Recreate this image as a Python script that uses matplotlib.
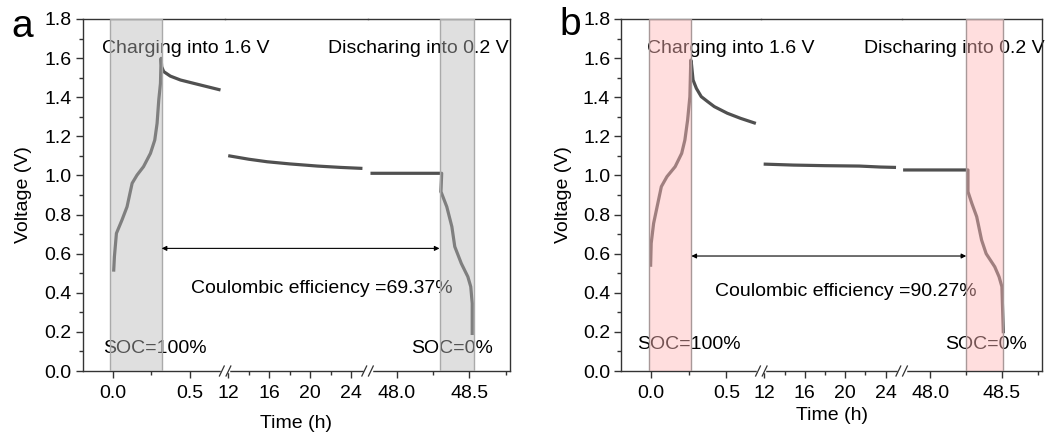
import matplotlib.pyplot as plt
from matplotlib.lines import Line2D

plt.rcParams['font.family'] = ['Liberation Sans', 'DejaVu Sans']
plt.rcParams['font.size'] = 14

# ---- data (time in h, voltage in V) ----
# panel a
a_t1 = [0.006, 0.011, 0.024, 0.06, 0.093, 0.126, 0.158, 0.2, 0.245, 0.273, 0.288, 0.299, 0.31, 0.314,
        0.318, 0.331, 0.374, 0.44, 0.526, 0.613, 0.70]
a_v1 = [0.508, 0.585, 0.704, 0.772, 0.84, 0.96, 1.002, 1.045, 1.113, 1.181, 1.266, 1.386, 1.471, 1.599,
        1.556, 1.531, 1.508, 1.488, 1.471, 1.454, 1.437]
a_t2 = [12.0, 14.0, 15.8, 18.0, 20.7, 23.0, 25.1]
a_v2 = [1.101, 1.083, 1.07, 1.059, 1.048, 1.041, 1.036]
a_t3 = [47.82, 48.1, 48.31, 48.305, 48.345, 48.38, 48.40, 48.445, 48.49, 48.51, 48.52, 48.52]
a_v3 = [1.011, 1.011, 1.011, 0.917, 0.84, 0.738, 0.636, 0.55, 0.482, 0.431, 0.346, 0.184]

# panel b
b_t1 = [0.0, 0.004, 0.02, 0.043, 0.071, 0.108, 0.162, 0.205, 0.226, 0.244, 0.259, 0.265,
        0.269, 0.28, 0.302, 0.334, 0.377, 0.42, 0.506, 0.593, 0.694]
b_v1 = [0.533, 0.653, 0.755, 0.84, 0.943, 0.994, 1.045, 1.113, 1.181, 1.283, 1.403, 1.59,
        1.573, 1.488, 1.445, 1.403, 1.377, 1.352, 1.318, 1.292, 1.266]
b_t2 = [11.93, 14.87, 18.0, 21.4, 23.5, 25.04]
b_v2 = [1.058, 1.053, 1.050, 1.048, 1.043, 1.041]
b_t3 = [47.81, 48.05, 48.263, 48.263, 48.29, 48.324, 48.358, 48.39, 48.45, 48.48, 48.50, 48.51]
b_v3 = [1.028, 1.028, 1.028, 0.917, 0.857, 0.789, 0.67, 0.60, 0.533, 0.482, 0.431, 0.193]

# shaded windows (charge / discharge), in h
a_spans = [(-0.015, 0.318), (48.295, 48.53)]
b_spans = [(-0.011, 0.269), (48.251, 48.51)]
a_ce = "69.37%"
b_ce = "90.27%"

# broken x axis: segment limits and ticks
seg_lims = [(-0.195, 0.73), (11.7, 25.6), (47.8, 48.78)]
seg_major = [[0.0, 0.5], [12, 16, 20, 24], [48.0, 48.5]]
seg_minor = [[0.25], [14, 18, 22], [48.25, 48.75]]
seg_labels = [["0.0", "0.5"], ["12", "16", "20", "24"], ["48.0", "48.5"]]
y_ticks = [0.0, 0.2, 0.4, 0.6, 0.8, 1.0, 1.2, 1.4, 1.6, 1.8]

W, H = 1059, 436
fig = plt.figure(figsize=(W / 100, H / 100), dpi=100)

line_col = "#505050"
spine_col = "#333333"
bottom = 1 - 371 / H
height = (371 - 19) / H


def draw_panel(left_px, right_px, t_list, v_list, spans, face, edge, ce, arrow_v, txt):
    left = left_px / W
    w = (right_px - left_px) / W / 3
    axs = [fig.add_axes([left + i * w, bottom, w, height]) for i in range(3)]
    for i, ax in enumerate(axs):
        ax.set_facecolor("none")
        ax.set_xlim(*seg_lims[i])
        ax.set_ylim(0, 1.8)
        ax.plot(t_list[i], v_list[i], color=line_col, lw=2.3, zorder=2, solid_capstyle="butt")
        ax.set_xticks(seg_major[i])
        ax.set_xticks(seg_minor[i], minor=True)
        ax.set_xticklabels(seg_labels[i])
        ax.tick_params(axis="x", which="major", direction="out", length=4.8, width=1,
                       color=spine_col, pad=5)
        ax.tick_params(axis="x", which="minor", direction="out", length=2.8, width=1, color=spine_col)
        for s in ax.spines.values():
            s.set_color(spine_col)
            s.set_linewidth(1)
        ax.spines["right"].set_visible(i == 2)
        ax.spines["left"].set_visible(i == 0)
        if i == 0:
            ax.set_yticks(y_ticks)
            ax.set_yticklabels([f"{v:.1f}" for v in y_ticks])
            ax.set_yticks([v + 0.1 for v in y_ticks[:-1]], minor=True)
            ax.tick_params(axis="y", which="major", direction="out", length=4.8, width=1,
                           color=spine_col, pad=3)
            ax.tick_params(axis="y", which="minor", direction="out", length=2.8, width=1,
                           color=spine_col)
            ax.set_ylabel("Voltage (V)", labelpad=txt["ypad"])
        else:
            ax.set_yticks([])

    ax1, ax2, ax3 = axs
    # shaded windows drawn on top with transparency
    ax1.axvspan(*spans[0], facecolor=face, edgecolor=edge, lw=1, zorder=3)
    ax3.axvspan(*spans[1], facecolor=face, edgecolor=edge, lw=1, zorder=3)

    ax1.text(txt["charge_x"], 1.65, "Charging into 1.6 V", ha="left", va="center",
             zorder=2.5, clip_on=False)
    ax3.text(txt["dis_x"], 1.65, "Discharing into 0.2 V", ha="right", va="center",
             transform=ax3.get_yaxis_transform(), zorder=2.5, clip_on=False)
    ax1.text(txt["soc1_x"], txt["soc_y"], "SOC=100%", ha="left", va="center",
             zorder=2.5, clip_on=False)
    ax3.text(txt["soc0_x"], txt["soc_y"], "SOC=0%", ha="right", va="center",
             zorder=2.5, clip_on=False)
    ax2.text(txt["ce_x"], txt["ce_y"], "Coulombic efficiency =" + ce, ha="center", va="center",
             zorder=2.5, clip_on=False)

    ax1.annotate("", xy=(spans[1][0], arrow_v), xycoords=ax3.transData,
                 xytext=(spans[0][1], arrow_v), textcoords=ax1.transData,
                 arrowprops=dict(arrowstyle="<|-|>", color="black", lw=0.8,
                                 mutation_scale=7, shrinkA=0, shrinkB=0))

    # axis break marks "//" on the bottom spine
    yb = bottom
    for k in (1, 2):
        xb = left + k * w
        fig.add_artist(Line2D([xb - 3 / W, xb + 3 / W], [yb, yb], color="white", lw=2.5,
                              transform=fig.transFigure))
        for off in (-3.3, 3.3):
            fig.add_artist(Line2D([xb + (off - 2.4) / W, xb + (off + 2.4) / W],
                                  [yb - 5 / H, yb + 5 / H], color=spine_col, lw=0.9,
                                  transform=fig.transFigure))

    fig.text((left_px + right_px) / 2 / W, txt["xlab_y"], "Time (h)", ha="center", va="center")
    fig.text(txt["lab_x"], txt["lab_y"], txt["lab"], fontsize=28, ha="left", va="baseline")


draw_panel(82.7, 510, [a_t1, a_t2, a_t3], [a_v1, a_v2, a_v3], a_spans,
           (186 / 255, 186 / 255, 186 / 255, 0.45), "#aaaaaa", a_ce, 0.627,
           dict(charge_x=-0.069, dis_x=0.988, soc1_x=-0.062, soc0_x=48.663, soc_y=0.116,
                ce_x=21.1, ce_y=0.42, xlab_y=13 / H, lab_x=0.011, lab_y=0.916, lab="a", ypad=9))

draw_panel(621, 1042, [b_t1, b_t2, b_t3], [b_v1, b_v2, b_v3], b_spans,
           (1.0, 183 / 255, 183 / 255, 0.46), "#a89898", b_ce, 0.588,
           dict(charge_x=-0.022, dis_x=1.02, soc1_x=-0.087, soc0_x=48.678, soc_y=0.133,
                ce_x=20.1, ce_y=0.405, xlab_y=21 / H, lab_x=0.528, lab_y=0.92, lab="b", ypad=8))

fig.savefig("out.png", dpi=100)
